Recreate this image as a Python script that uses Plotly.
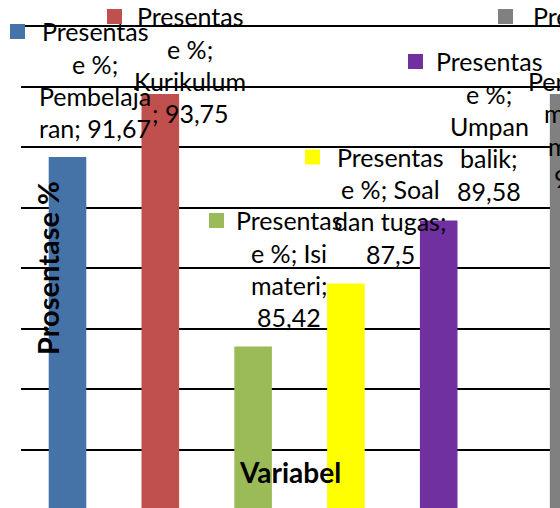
import plotly.graph_objects as go

# ---------------- data ----------------
categories = ["Pembelajaran", "Kurikulum", "Isi materi", "Soal dan tugas",
              "Umpan balik", "Penerapan metode materi"]
values = [91.67, 93.75, 85.42, 87.5, 89.58, 93.75]
series_name = "Presentase %"
colors = ["#4572A7", "#C0504D", "#9BBB59", "#FFFF00", "#7030A0", "#808080"]
y_title = "Prosentase %"
x_title = "Variabel"

# wrapped data-label lines ({v} = value with decimal comma)
label_lines = [
    ["Presentas", "e %;", "Pembelaja", "ran; {v}"],
    ["Presentas", "e %;", "Kurikulum", "; {v}"],
    ["Presentas", "e %; Isi", "materi;", "{v}"],
    ["Presentas", "e %; Soal", "dan tugas;", "{v}"],
    ["Presentas", "e %;", "Umpan", "balik;", "{v}"],
    ["Presentas", "e %;", "Penerapan", "metode", "materi;", "{v}"],
]

# ---------------- layout / style ----------------
W, H = 560, 508
PLOT_LEFT = 21
BAR_POS = [0, 1, 2, 3, 4, 5.4]        # horizontal slot of each bar
X0_PX, X_STEP = 67.5, 92.8            # pixel of slot 0, pixels per slot
Y_REF_VAL, Y_REF_PX, Y_K = 82, 450, 30.29   # value 82 at px 450, px per unit

def xd(px):
    return (px - X0_PX) / X_STEP

def yd(py):
    return Y_REF_VAL + (Y_REF_PX - py) / Y_K

def xp(px):  # pixel -> paper x
    return (px - PLOT_LEFT) / (W - PLOT_LEFT)

def yp(py):  # pixel -> paper y
    return 1 - py / H

FONT = "Lato"
LBL_SIZE = 25
LINE_STEP = 32.3
BASE_OFF = 0.387 * LBL_SIZE
LABEL_CX = [95, 190, 289, 390, 489, 586]
LABEL_BASE0 = [41, 26, 230, 166.5, 71, 26]
SQ_LEFT = [10, 107, 209, 305, 408, 498]
SQ = 15

fig = go.Figure()
fig.add_trace(go.Bar(
    x=BAR_POS, y=values, customdata=categories,
    marker=dict(color=colors, line=dict(width=0)),
    width=0.405, showlegend=False,
    hovertemplate="%{customdata}: %{y}<extra></extra>",
))

annotations = []
shapes = []
for i, lines in enumerate(label_lines):
    vtxt = str(values[i]).replace(".", ",")
    for j, ln in enumerate(lines):
        base = LABEL_BASE0[i] + j * LINE_STEP
        annotations.append(dict(
            x=xp(LABEL_CX[i]), y=yp(base - BASE_OFF), xref="paper", yref="paper",
            text=ln.format(v=vtxt), showarrow=False, xanchor="center", yanchor="middle",
            font=dict(family=FONT, size=LBL_SIZE, color="#000000"),
        ))
    top = LABEL_BASE0[i] - 17
    shapes.append(dict(
        type="rect", xref="paper", yref="paper", layer="above",
        x0=xp(SQ_LEFT[i]), x1=xp(SQ_LEFT[i] + SQ), y0=yp(top + SQ), y1=yp(top),
        fillcolor=colors[i], line=dict(width=0),
    ))

# white box behind the vertical axis title (hides gridlines there)
shapes.append(dict(
    type="rect", xref="paper", yref="paper", layer="between",
    x0=xp(31), x1=xp(52), y0=yp(357), y1=yp(178),
    fillcolor="white", line=dict(width=0),
))

annotations.append(dict(
    x=xp(47), y=yp(268), xref="paper", yref="paper", text="<b>" + y_title + "</b>",
    textangle=-90, showarrow=False, xanchor="center", yanchor="middle",
    font=dict(family=FONT, size=29, color="#000000"),
))
annotations.append(dict(
    x=xp(290), y=yp(472), xref="paper", yref="paper", text="<b>" + x_title + "</b>",
    showarrow=False, xanchor="center", yanchor="middle",
    font=dict(family=FONT, size=28, color="#000000"),
))

fig.update_layout(
    width=W, height=H,
    margin=dict(l=PLOT_LEFT, r=0, t=0, b=0, pad=0),
    paper_bgcolor="white", plot_bgcolor="white",
    annotations=annotations, shapes=shapes,
)
fig.update_xaxes(range=[xd(PLOT_LEFT), xd(W)], showticklabels=False, ticks="",
                 showgrid=False, zeroline=False, showline=False)
fig.update_yaxes(range=[yd(H), yd(0)], tick0=80, dtick=2, showgrid=True,
                 gridcolor="#000000", gridwidth=1.5, showticklabels=False, ticks="",
                 zeroline=False, showline=False)

fig.write_html("out.html")
